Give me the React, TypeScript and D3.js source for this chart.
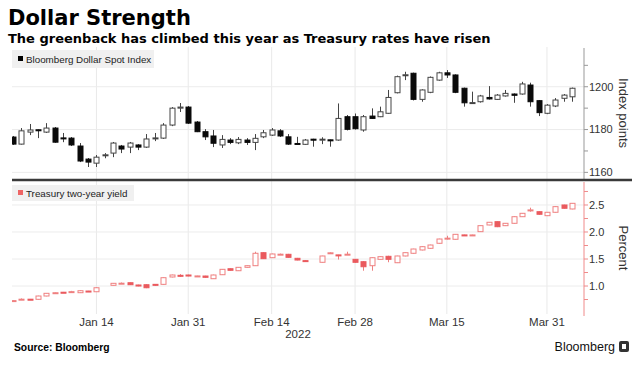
import React from 'react';
import * as d3 from 'd3';

// trading days shown on the axis (weekdays, Dec 31 2021 - Apr 5 2022)
const days = d3.timeDays(new Date(2021, 11, 31), new Date(2022, 3, 6)).filter(d => d.getDay() % 6 !== 0);

const tickDates = [new Date(2022, 0, 14), new Date(2022, 0, 31), new Date(2022, 1, 14), new Date(2022, 1, 28), new Date(2022, 2, 15), new Date(2022, 2, 31)];
const tickLabels = ['Jan 14', 'Jan 31', 'Feb 14', 'Feb 28', 'Mar 15', 'Mar 31'];

// Bloomberg Dollar Spot Index
const dxyOpen = [1176.5, 1173.2, 1178.8, 1179.9, 1178.8, 1180.7, 1176.1, 1176.0, 1172.3, 1166.2, 1164.3, 1168.0, 1169.0, 1172.3, 1171.8, 1172.8, 1171.8, 1175.9, 1176.0, 1182.1, 1190.0, 1190.5, 1183.5, 1179.0, 1177.0, 1172.8, 1175.1, 1173.8, 1175.1, 1174.0, 1176.6, 1177.4, 1179.4, 1176.6, 1173.5, 1173.1, 1175.5, 1175.2, 1175.2, 1175.1, 1186.0, 1186.0, 1179.8, 1186.3, 1186.0, 1187.6, 1197.2, 1205.4, 1206.3, 1194.1, 1197.4, 1203.1, 1206.5, 1205.5, 1199.3, 1192.4, 1193.0, 1195.0, 1194.1, 1195.7, 1196.6, 1196.6, 1200.8, 1193.5, 1187.6, 1191.0, 1194.6, 1195.3];
const dxyHigh = [1177.0, 1180.7, 1182.6, 1180.0, 1183.0, 1181.2, 1178.4, 1176.5, 1173.7, 1166.7, 1168.1, 1169.0, 1174.2, 1172.8, 1174.2, 1173.2, 1177.9, 1178.4, 1183.0, 1190.5, 1192.4, 1191.0, 1184.0, 1180.2, 1179.8, 1177.4, 1176.0, 1176.5, 1176.0, 1177.9, 1179.8, 1180.7, 1180.2, 1177.9, 1176.6, 1175.6, 1175.7, 1176.4, 1175.3, 1192.2, 1186.8, 1187.5, 1186.8, 1189.9, 1190.7, 1198.5, 1205.2, 1207.0, 1206.6, 1198.8, 1204.8, 1207.0, 1207.8, 1205.8, 1199.6, 1197.7, 1196.2, 1200.3, 1196.6, 1198.5, 1196.9, 1202.3, 1201.9, 1193.8, 1191.9, 1194.7, 1196.6, 1199.6];
const dxyLow = [1172.8, 1173.0, 1177.4, 1176.0, 1178.4, 1173.8, 1174.1, 1172.3, 1164.8, 1162.5, 1162.5, 1166.6, 1167.1, 1169.0, 1169.0, 1170.4, 1171.4, 1174.6, 1175.6, 1181.6, 1188.2, 1182.6, 1178.8, 1175.1, 1171.8, 1171.4, 1173.2, 1173.2, 1172.8, 1170.4, 1176.0, 1177.0, 1176.5, 1172.8, 1173.0, 1172.8, 1172.0, 1173.2, 1172.0, 1174.8, 1179.6, 1180.0, 1179.0, 1185.0, 1185.8, 1187.4, 1196.9, 1203.1, 1193.6, 1193.0, 1197.0, 1202.8, 1204.1, 1197.0, 1190.7, 1192.0, 1192.6, 1194.0, 1193.8, 1195.4, 1192.5, 1196.3, 1190.7, 1186.3, 1187.2, 1190.5, 1193.0, 1193.0];
const dxyClose = [1173.2, 1179.4, 1179.8, 1179.7, 1180.7, 1174.1, 1175.9, 1172.8, 1165.3, 1164.8, 1167.1, 1168.2, 1173.7, 1170.9, 1173.7, 1171.8, 1175.6, 1176.1, 1182.1, 1190.0, 1190.5, 1183.0, 1179.0, 1176.6, 1173.6, 1175.4, 1174.0, 1175.4, 1174.0, 1175.9, 1178.5, 1179.8, 1177.0, 1173.2, 1173.2, 1175.1, 1175.1, 1175.5, 1175.0, 1185.2, 1180.1, 1180.4, 1186.0, 1185.2, 1188.3, 1195.0, 1204.7, 1205.6, 1194.1, 1198.5, 1204.4, 1206.5, 1205.5, 1197.4, 1192.5, 1192.6, 1195.7, 1194.3, 1196.1, 1196.9, 1196.0, 1201.3, 1193.0, 1187.9, 1191.4, 1193.8, 1196.1, 1199.3];

// Treasury two-year yield (null = market closed)
const ustOpen = [0.724, 0.752, 0.756, 0.754, 0.815, 0.870, 0.885, 0.892, 0.876, 0.907, 0.894, null, 1.013, 1.048, 1.061, 1.019, 1.024, 1.031, 1.031, 1.167, 1.198, 1.204, 1.183, 1.185, 1.135, 1.209, 1.320, 1.283, 1.346, 1.376, 1.617, 1.524, 1.585, 1.587, 1.513, 1.470, null, 1.439, 1.605, 1.576, 1.585, 1.494, 1.450, 1.376, 1.494, 1.550, 1.431, 1.556, 1.606, 1.667, 1.698, 1.791, 1.880, 1.865, 1.946, 1.942, 2.006, 2.130, 2.191, 2.117, 2.161, 2.283, 2.405, 2.376, 2.302, 2.365, 2.500, 2.426];
const ustHigh = [0.735, 0.770, 0.760, 0.820, 0.870, 0.880, 0.890, 0.910, 0.920, 0.910, 0.975, null, 1.055, 1.065, 1.065, 1.025, 1.030, 1.035, 1.160, 1.210, 1.220, 1.210, 1.190, 1.190, 1.210, 1.315, 1.325, 1.350, 1.380, 1.635, 1.625, 1.600, 1.600, 1.595, 1.520, 1.480, null, 1.560, 1.625, 1.578, 1.635, 1.500, 1.460, 1.530, 1.550, 1.560, 1.560, 1.620, 1.690, 1.735, 1.765, 1.875, 1.930, 1.960, 1.950, 1.950, 2.120, 2.185, 2.195, 2.165, 2.290, 2.350, 2.450, 2.380, 2.370, 2.475, 2.505, 2.535];
const ustLow = [0.720, 0.740, 0.750, 0.750, 0.810, 0.865, 0.875, 0.880, 0.870, 0.890, 0.890, null, 1.010, 1.040, 1.020, 0.995, 0.960, 1.005, 1.025, 1.160, 1.170, 1.180, 1.175, 1.155, 1.130, 1.205, 1.285, 1.280, 1.340, 1.370, 1.500, 1.520, 1.575, 1.525, 1.475, 1.465, null, 1.435, 1.600, 1.490, 1.583, 1.430, 1.283, 1.283, 1.490, 1.440, 1.425, 1.550, 1.600, 1.660, 1.690, 1.785, 1.860, 1.860, 1.935, 1.935, 2.000, 2.125, 2.090, 2.110, 2.155, 2.280, 2.376, 2.320, 2.295, 2.360, 2.435, 2.420];
const ustClose = [0.730, 0.756, 0.752, 0.815, 0.865, 0.876, 0.880, 0.896, 0.913, 0.894, 0.968, null, 1.050, 1.052, 1.024, 1.000, 0.968, 1.013, 1.154, 1.204, 1.180, 1.185, 1.187, 1.161, 1.204, 1.309, 1.291, 1.346, 1.376, 1.606, 1.506, 1.593, 1.589, 1.531, 1.481, 1.466, null, 1.556, 1.615, 1.572, 1.589, 1.439, 1.357, 1.524, 1.543, 1.494, 1.556, 1.617, 1.685, 1.728, 1.759, 1.870, 1.886, 1.957, 1.942, 1.946, 2.117, 2.180, 2.098, 2.161, 2.283, 2.346, 2.409, 2.328, 2.365, 2.469, 2.439, 2.531];

const dxyTicks = [1160, 1170, 1180, 1190, 1200, 1210];
const dxyLabels = [1160, 1180, 1200];
const ustTicks = [0.75, 1.0, 1.25, 1.5, 1.75, 2.0, 2.25, 2.5, 2.75];
const ustLabels = [1.0, 1.5, 2.0, 2.5];

const font = 'Liberation Sans, Arial, sans-serif';
const titleFont = 'DejaVu Sans, sans-serif';
const left = 12, axisX = 584;

const x = d3.scaleLinear().domain([0, days.length - 1]).range([13, 572]);
const yTop = d3.scaleLinear().domain([1156.9, 1218.1]).range([179, 48]);
const yBot = d3.scaleLinear().domain([0.519, 2.944]).range([312, 181]);

function Candles({ o, h, l, c, y, upStroke, downFill, wick }: any) {
  const bw = 5;
  return (
    <g>
      {o.map((ov: number | null, i: number) => {
        if (ov == null) return null;
        const up = c[i] >= ov;
        const cx = Math.round(x(i)) + 0.5;
        const top = y(Math.max(ov, c[i]));
        const bot = y(Math.min(ov, c[i]));
        const bh = Math.max(bot - top, 1);
        return (
          <g key={i}>
            <line x1={cx} x2={cx} y1={y(h[i])} y2={y(l[i])} stroke={wick} strokeWidth={1} />
            <rect x={cx - bw / 2} y={top} width={bw} height={bh}
              fill={up ? '#fff' : downFill} stroke={up ? upStroke : downFill} strokeWidth={1} />
          </g>
        );
      })}
    </g>
  );
}

export default function App() {
  const tickIdx = tickDates.map(t => days.findIndex(d => +d === +t));
  return (
    <svg width={644} height={369} style={{ position: 'absolute', left: 0, top: 0, background: '#fff' }}>
      <defs>
        <clipPath id="plot"><rect x={left} y={40} width={axisX - left} height={280} /></clipPath>
      </defs>
      <text x={8} y={25} fontFamily={titleFont} fontWeight="bold" fontSize={21} fill="#000">Dollar Strength</text>
      <text x={8} y={43} fontFamily={titleFont} fontWeight="bold" fontSize={13} fill="#000">The greenback has climbed this year as Treasury rates have risen</text>

      {/* grid */}
      {tickIdx.map((ti, k) => (
        <line key={k} x1={x(ti)} x2={x(ti)} y1={47} y2={314} stroke="#e9e9e9" />
      ))}
      {dxyLabels.map(v => (
        <line key={v} x1={left} x2={axisX} y1={yTop(v)} y2={yTop(v)} stroke="#ececec" />
      ))}
      {ustLabels.map(v => (
        <line key={v} x1={left} x2={axisX} y1={yBot(v)} y2={yBot(v)} stroke="#ececec" />
      ))}

      {/* legends */}
      <rect x={left} y={50} width={142} height={18} fill="#f0f0f0" />
      <rect x={18} y={56} width={5} height={5} fill="#000" />
      <text x={26} y={62.5} fontFamily={font} fontSize={9.8} fill="#222">Bloomberg Dollar Spot Index</text>
      <rect x={left} y={185} width={122} height={16} fill="#f0f0f0" />
      <rect x={18} y={190} width={5} height={5} fill="#ee6464" />
      <text x={26} y={196.5} fontFamily={font} fontSize={9.8} fill="#222">Treasury two-year yield</text>

      <g clipPath="url(#plot)">
        <Candles o={dxyOpen} h={dxyHigh} l={dxyLow} c={dxyClose} y={yTop} upStroke="#444" downFill="#0a0a0a" wick="#444" />
        <Candles o={ustOpen} h={ustHigh} l={ustLow} c={ustClose} y={yBot} upStroke="#ef8080" downFill="#ea5a5e" wick="#ef8080" />
      </g>

      {/* right axes */}
      <line x1={axisX} x2={axisX} y1={48} y2={179} stroke="#999" />
      {dxyTicks.map(v => (
        <line key={v} x1={axisX} x2={axisX + 4} y1={yTop(v)} y2={yTop(v)} stroke="#999" />
      ))}
      {dxyLabels.map(v => (
        <text key={v} x={589} y={yTop(v)} dy="0.35em" fontFamily={font} fontSize={11} fill="#333">{v}</text>
      ))}
      <text transform={`translate(619,${113}) rotate(90)`} textAnchor="middle" fontFamily={font} fontSize={13} fill="#333">Index points</text>

      <line x1={left} x2={632} y1={180} y2={180} stroke="#3a3a3a" strokeWidth={2.5} />

      <line x1={axisX} x2={axisX} y1={182} y2={316} stroke="#f08a8a" />
      {ustTicks.map(v => (
        <line key={v} x1={axisX} x2={axisX + 4} y1={yBot(v)} y2={yBot(v)} stroke="#f08a8a" />
      ))}
      {ustLabels.map(v => (
        <text key={v} x={589} y={yBot(v)} dy="0.35em" fontFamily={font} fontSize={11} fill="#333">{d3.format('.1f')(v)}</text>
      ))}
      <text transform={`translate(619,${248}) rotate(90)`} textAnchor="middle" fontFamily={font} fontSize={13} fill="#333">Percent</text>

      {/* x axis */}
      {tickIdx.map((ti, k) => (
        <text key={k} x={x(ti)} y={326} textAnchor="middle" fontFamily={font} fontSize={11.5} fill="#333">{tickLabels[k]}</text>
      ))}
      <text x={(left + axisX) / 2} y={338} textAnchor="middle" fontFamily={font} fontSize={11.5} fill="#333">2022</text>

      {/* footer */}
      <text x={14} y={351} fontFamily={font} fontWeight="bold" fontSize={10.3} fill="#000">Source: Bloomberg</text>
      <text x={615} y={351} textAnchor="end" fontFamily={font} fontSize={12.5} fill="#111">Bloomberg</text>
      <rect x={619} y={341} width={10} height={11} rx={2} fill="#333" />
      <rect x={622} y={344} width={4} height={5} fill="#fff" />
    </svg>
  );
}
